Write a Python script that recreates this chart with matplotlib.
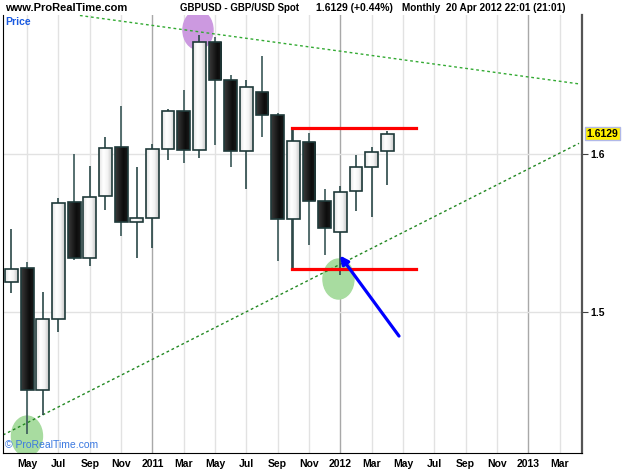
#GBPUSD monthly candles, ProRealTime style
import matplotlib
matplotlib.use('Agg')
import matplotlib.pyplot as plt
import numpy as np
from matplotlib.patches import Ellipse
from matplotlib.colors import LinearSegmentedColormap

plt.rcParams['font.family'] = ['Liberation Sans Narrow', 'Liberation Sans', 'DejaVu Sans']

# months from Apr 2010 to Apr 2012 (index 0 = Apr 2010)
months = ['Apr10','May10','Jun10','Jul10','Aug10','Sep10','Oct10','Nov10','Dec10',
          'Jan11','Feb11','Mar11','Apr11','May11','Jun11','Jul11','Aug11','Sep11',
          'Oct11','Nov11','Dec11','Jan12','Feb12','Mar12','Apr12']
opens  = [1.5192,1.5277,1.4504,1.4954,1.5698,1.5342,1.5732,1.6042,1.5572,
          1.5593,1.6030,1.6272,1.6025,1.6709,1.6468,1.6019,1.6394,1.6247,
          1.5587,1.6078,1.5703,1.5504,1.5764,1.5920,1.6021]
highs  = [1.5527,1.5315,1.5129,1.5720,1.6000,1.5926,1.6110,1.6304,1.5916,
          1.6061,1.6283,1.6405,1.6753,1.6742,1.6500,1.6468,1.6620,1.6261,
          1.6163,1.6135,1.5777,1.5797,1.5994,1.6046,1.6147]
lows   = [1.5122,1.4226,1.4348,1.4872,1.5327,1.5293,1.5646,1.5481,1.5344,
          1.5403,1.5962,1.5941,1.5973,1.6057,1.5916,1.5778,1.6109,1.5325,
          1.5277,1.5424,1.5359,1.5234,1.5641,1.5603,1.5804]
closes = [1.5270,1.4504,1.4954,1.5688,1.5342,1.5730,1.6036,1.5572,1.5593,
          1.6030,1.6272,1.6025,1.6711,1.6468,1.6021,1.6422,1.6247,1.5587,
          1.6080,1.5703,1.5534,1.5761,1.5920,1.6011,1.6128]

tick_pos = [1,3,5,7,9,11,13,15,17,19,21,23,25,27,29,31,33,35]
tick_lbl = ['May','Jul','Sep','Nov','2011','Mar','May','Jul','Sep','Nov',
            '2012','Mar','May','Jul','Sep','Nov','2013','Mar']
year_pos = [9, 21, 33]

last_price = 1.6129
resist = 1.6165
support = 1.5275

fig = plt.figure(figsize=(6.25, 4.69), dpi=100)
ax = fig.add_axes([0.0048, 0.0341, 0.9264, 0.9339])

# grid
for p in tick_pos:
    c = '#a8a8a8' if p in year_pos else '#e2e2e2'
    ax.axvline(p, color=c, lw=1, zorder=0)
for y in [1.5, 1.6]:
    ax.axhline(y, color='#e2e2e2', lw=1, zorder=0)

# highlight circles
ax.add_patch(Ellipse((11.91, 1.6785), 1.92, 0.0245, color='#cc99e0', zorder=1))
ax.add_patch(Ellipse((0.99, 1.4215), 1.98, 0.0253, color='#a8dca0', zorder=1))
ax.add_patch(Ellipse((20.88, 1.5209), 1.98, 0.0253, color='#a8dca0', zorder=1))

# trend lines
ax.plot([4.37, 36.24], [1.6877, 1.6444], color='#33aa33', lw=1, ls=(0, (2, 2)), zorder=2)
ax.plot([-0.54, 36.24], [1.4222, 1.6068], color='#228822', lw=1, ls=(0, (2, 2)), zorder=2)

# candles with shaded bodies
white_cm = LinearSegmentedColormap.from_list('w', ['#e4e4e4', '#ffffff', '#f4f4f4', '#c8c8c8'])
black_cm = LinearSegmentedColormap.from_list('b', ['#3a3a3a', '#222222', '#0c0c0c', '#1a1a1a'])
grad = np.linspace(0, 1, 32).reshape(1, -1)
x = list(range(len(months)))
for i in x:
    o, h, l, c = opens[i], highs[i], lows[i], closes[i]
    up = c >= o
    ax.vlines(i, l, h, color='#2a4848' if up else '#3a5858', lw=1.2, zorder=3)
    bot = min(o, c)
    hgt = max(abs(c - o), 0.0015)
    bars = ax.bar(i, hgt, bottom=bot, width=0.82, facecolor='none',
                  edgecolor='#1f3a3a', lw=1.2, zorder=5)
    im = ax.imshow(grad, extent=[i - 0.41, i + 0.41, bot, bot + hgt], aspect='auto',
                   cmap=white_cm if up else black_cm, zorder=4, interpolation='bilinear')
    im.set_clip_path(bars.patches[0])

# support / resistance
ax.plot([17.9, 25.83], [resist, resist], color='#ff0000', lw=2.3, zorder=6)
ax.plot([17.9, 25.83], [support, support], color='#ff0000', lw=2.3, zorder=6)
ax.vlines(17.9, support, resist, color='#2a4444', lw=1.2, zorder=3)

# arrow
ax.annotate('', xy=(20.87, 1.5372), xytext=(24.85, 1.4834),
            arrowprops=dict(arrowstyle='-|>', color='#0000ff', lw=2.3,
                            mutation_scale=12), zorder=7)

ax.set_xlim(-0.54, 36.43)
ax.set_ylim(1.4108, 1.6880)

# axes styling
ax.set_xticks(tick_pos)
ax.set_xticklabels(tick_lbl, fontsize=7.5, fontweight='bold')
ax.yaxis.tick_right()
ax.set_yticks([1.5, 1.6])
ax.set_yticklabels(['1.5', '1.6'], fontsize=7.5, fontweight='bold')
ax.tick_params(axis='x', length=0, pad=4)
ax.tick_params(axis='y', length=4, color='#404040', pad=2)
for s in ['left', 'bottom', 'top']:
    ax.spines[s].set_color('#000000')
ax.spines['top'].set_visible(False)
ax.spines['right'].set_color('#555555')
ax.spines['right'].set_linewidth(1.6)

ax.text(1.008, last_price, '1.6129', transform=ax.get_yaxis_transform(),
        fontsize=7.5, fontweight='bold', va='center', ha='left',
        bbox=dict(boxstyle='square,pad=0.15', fc='#ffee00', ec='#b0b8e8', lw=1))

ax.text(0.004, 0.995, 'Price', transform=ax.transAxes, color='#1a5ae0',
        fontsize=7.5, fontweight='bold', va='top', ha='left')
ax.text(0.004, 0.006, '© ProRealTime.com', transform=ax.transAxes, color='#3a78e0',
        fontsize=7.5, va='bottom', ha='left')

# header
hy = 0.982
fig.text(0.008, hy, 'www.ProRealTime.com', fontsize=8, fontweight='bold', va='center')
fig.text(0.288, hy, 'GBPUSD - GBP/USD Spot', fontsize=7, fontweight='bold', va='center')
fig.text(0.506, hy, '1.6129 (+0.44%)', fontsize=7.5, fontweight='bold', va='center')
fig.text(0.643, hy, 'Monthly  20 Apr 2012 22:01 (21:01)', fontsize=7.2, fontweight='bold', va='center')

fig.savefig('out.png', dpi=100)
